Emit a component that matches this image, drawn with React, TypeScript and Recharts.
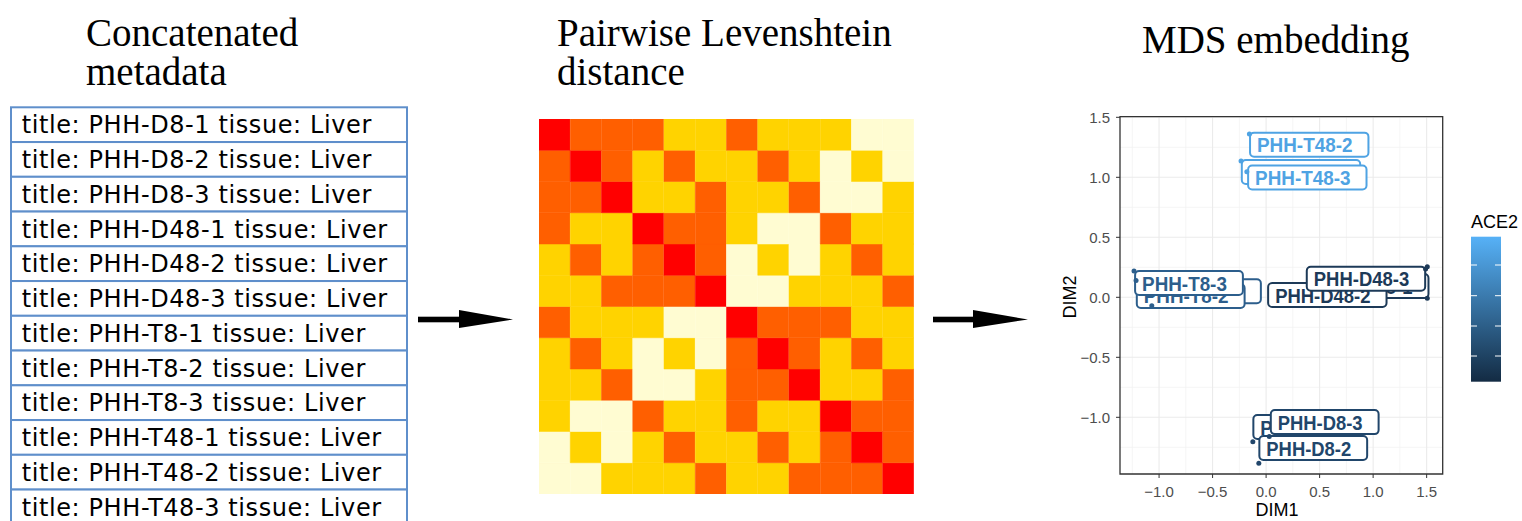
import { BarChart, Bar, Cell, XAxis, YAxis, ScatterChart, Scatter, CartesianGrid, ReferenceArea } from 'recharts';

// sample metadata rows (left panel)
const samples = [
  'PHH-D8-1', 'PHH-D8-2', 'PHH-D8-3',
  'PHH-D48-1', 'PHH-D48-2', 'PHH-D48-3',
  'PHH-T8-1', 'PHH-T8-2', 'PHH-T8-3',
  'PHH-T48-1', 'PHH-T48-2', 'PHH-T48-3',
];

// pairwise Levenshtein distance class (0 = same, 3 = most different)
const distances = [
  [0, 1, 1, 1, 2, 2, 1, 2, 2, 2, 3, 3],
  [1, 0, 1, 2, 1, 2, 2, 1, 2, 3, 2, 3],
  [1, 1, 0, 2, 2, 1, 2, 2, 1, 3, 3, 2],
  [1, 2, 2, 0, 1, 1, 2, 3, 3, 1, 2, 2],
  [2, 1, 2, 1, 0, 1, 3, 2, 3, 2, 1, 2],
  [2, 2, 1, 1, 1, 0, 3, 3, 2, 2, 2, 1],
  [1, 2, 2, 2, 3, 3, 0, 1, 1, 1, 2, 2],
  [2, 1, 2, 3, 2, 3, 1, 0, 1, 2, 1, 2],
  [2, 2, 1, 3, 3, 2, 1, 1, 0, 2, 2, 1],
  [2, 3, 3, 1, 2, 2, 1, 2, 2, 0, 1, 1],
  [3, 2, 3, 2, 1, 2, 2, 1, 2, 1, 0, 1],
  [3, 3, 2, 2, 2, 1, 2, 2, 1, 1, 1, 0],
];
const distColors = ['#FF0000', '#FF5F00', '#FFD300', '#FFFCD2'];

// MDS coordinates of each sample
const pointX = [-0.124, -0.068, 0.03, 1.506, 1.49, 1.506, -1.215, -1.068, -1.234, -0.234, -0.156, -0.18];
const pointY = [-1.203, -1.383, -1.16, -0.008, 0.235, 0.255, 0.14, -0.07, 0.22, 1.136, 1.36, 1.047];
// repelled label anchors (left edge, vertical centre)
const labelX = [-0.119, -0.063, 0.044, 0.411, 0.019, 0.38, -1.056, -1.208, -1.224, -0.227, -0.15, -0.168];
const labelY = [-1.081, -1.256, -1.04, 0.094, 0.019, 0.154, 0.05, 0.011, 0.119, 1.044, 1.272, 0.998];
// ACE2 colour of each sample
const sampleColors = [
  '#21466B', '#21466B', '#21466B',
  '#1D3A58', '#1D3A58', '#1D3A58',
  '#2C5E8C', '#2C5E8C', '#2C5E8C',
  '#4FA3E3', '#4FA3E3', '#4FA3E3',
];

const xTicks = [-1, -0.5, 0, 0.5, 1, 1.5];
const yTicks = [-1, -0.5, 0, 0.5, 1, 1.5];
const xMinor = [-1.25, -0.75, -0.25, 0.25, 0.75, 1.25];
const yMinor = [-1.25, -0.75, -0.25, 0.25, 0.75, 1.25];
const xDomain = [-1.365, 1.65];
const yDomain = [-1.4725, 1.505];

const heatData = samples.map((_, col) => {
  const row: any = { col };
  samples.forEach((__, r) => (row[`r${r}`] = 1));
  return row;
});
const stackOrder = samples.map((_, i) => samples.length - 1 - i);

const pointData = samples.map((name, i) => ({ name, x: pointX[i], y: pointY[i], color: sampleColors[i] }));
const labelData = samples.map((name, i) => ({ name, x: labelX[i], y: labelY[i], color: sampleColors[i] }));

const fmt = (v: number) => v.toFixed(1).replace('-', '\u2212');

const LabelShape = (props: any) => {
  const { cx, cy, payload } = props;
  const tl = payload.name.length * 10.6;
  return (
    <g>
      <rect x={cx} y={cy - 12} width={tl + 23} height={24} rx={4} fill="#fff" stroke={payload.color} strokeWidth={2} />
      <text x={cx + 7} y={cy + 7.5} fontSize={21} fontWeight="bold" fill={payload.color}
        textLength={tl} lengthAdjust="spacingAndGlyphs" fontFamily="Liberation Sans, Arial, sans-serif">
        {payload.name}
      </text>
    </g>
  );
};

const PointShape = (props: any) => {
  const { cx, cy, payload } = props;
  return <circle cx={cx} cy={cy} r={2.5} fill={payload.color} />;
};

const serif = '"Liberation Serif", "Times New Roman", serif';
const sans = '"Liberation Sans", Arial, sans-serif';

export default function App() {
  return (
    <div style={{ position: 'absolute', left: 0, top: 0, width: 1522, height: 521, overflow: 'hidden', background: '#fff' }}>
      <svg width={1522} height={521} style={{ position: 'absolute', left: 0, top: 0 }}>
        <g fontFamily={serif} fontSize={39} fill="#000">
          <text x={86} y={46}>Concatenated</text>
          <text x={86} y={85}>metadata</text>
          <text x={557} y={46}>Pairwise Levenshtein</text>
          <text x={557} y={85}>distance</text>
          <text x={1142} y={53}>MDS embedding</text>
        </g>
        <g>
          {samples.map((s, i) => (
            <g key={s}>
              <rect x={11} y={107.3 + i * 34.75} width={396} height={34.75} fill="#fff" stroke="#5F8FCB" strokeWidth={2} />
              <text x={21.7} y={133.3 + i * 34.75} fontFamily='"DejaVu Sans", Verdana, sans-serif' fontSize={24}
                letterSpacing={0.6} fill="#000">
                {`title: ${s} tissue: Liver`}
              </text>
            </g>
          ))}
        </g>
        <g fill="#000">
          <rect x={418} y={316.7} width={43} height={5.6} />
          <polygon points="459,310 513,319.5 459,328" />
          <rect x={933} y={316.7} width={42} height={5.6} />
          <polygon points="973,310 1028,319.5 973,328" />
        </g>
        <g fontFamily={sans} fill="#000">
          <text x={1277} y={516} fontSize={18} textAnchor="middle">DIM1</text>
          <text x={1076} y={297} fontSize={18} textAnchor="middle" transform="rotate(-90 1076 297)">DIM2</text>
          <text x={1471} y={228} fontSize={18}>ACE2</text>
        </g>
        <defs>
          <linearGradient id="ace2" x1="0" y1="0" x2="0" y2="1">
            <stop offset="0%" stopColor="#56B1F7" />
            <stop offset="100%" stopColor="#132B43" />
          </linearGradient>
        </defs>
        <rect x={1471} y={236.7} width={30} height={145} fill="url(#ace2)" />
        {[265, 295.7, 326, 356].map((y) => (
          <g key={y} stroke="#fff" strokeWidth={1}>
            <line x1={1471} x2={1477} y1={y} y2={y} />
            <line x1={1495} x2={1501} y1={y} y2={y} />
          </g>
        ))}
      </svg>

      <div style={{ position: 'absolute', left: 539, top: 119 }}>
        <BarChart width={375} height={375} data={heatData} margin={{ top: 0, right: 0, bottom: 0, left: 0 }}
          barCategoryGap={0} barGap={0}>
          <XAxis dataKey="col" hide />
          <YAxis type="number" domain={[0, samples.length]} hide />
          {stackOrder.map((r) => (
            <Bar key={r} dataKey={`r${r}`} stackId="h" isAnimationActive={false}>
              {heatData.map((_, c) => (
                <Cell key={c} fill={distColors[distances[r][c]]} stroke={distColors[distances[r][c]]} strokeWidth={0.5} />
              ))}
            </Bar>
          ))}
        </BarChart>
      </div>

      <div style={{ position: 'absolute', left: 1040, top: 100 }}>
        <ScatterChart width={420} height={404} margin={{ top: 16.7, right: 17.3, bottom: 0, left: 40 }}>
          <CartesianGrid horizontalValues={yMinor} verticalValues={xMinor} stroke="#F2F2F2" strokeWidth={0.8} />
          <CartesianGrid horizontalValues={yTicks} verticalValues={xTicks} stroke="#EBEBEB" strokeWidth={1.1} />
          <XAxis type="number" dataKey="x" domain={xDomain} ticks={xTicks} allowDataOverflow height={30}
            tickFormatter={fmt} axisLine={false} tickSize={4} tickMargin={8}
            tickLine={{ stroke: '#333' }} tick={{ fill: '#4D4D4D', fontSize: 15, fontFamily: sans }} />
          <YAxis type="number" dataKey="y" domain={yDomain} ticks={yTicks} allowDataOverflow width={40}
            tickFormatter={fmt} axisLine={false} tickSize={4} tickMargin={6}
            tickLine={{ stroke: '#333' }} tick={{ fill: '#4D4D4D', fontSize: 15, fontFamily: sans }} />
          <ReferenceArea x1={xDomain[0]} x2={xDomain[1]} y1={yDomain[0]} y2={yDomain[1]}
            fill="none" fillOpacity={0} stroke="#333" strokeWidth={1.3} ifOverflow="visible" />
          <Scatter data={labelData} shape={LabelShape} isAnimationActive={false} />
          <Scatter data={pointData} shape={PointShape} isAnimationActive={false} />
        </ScatterChart>
      </div>
    </div>
  );
}
